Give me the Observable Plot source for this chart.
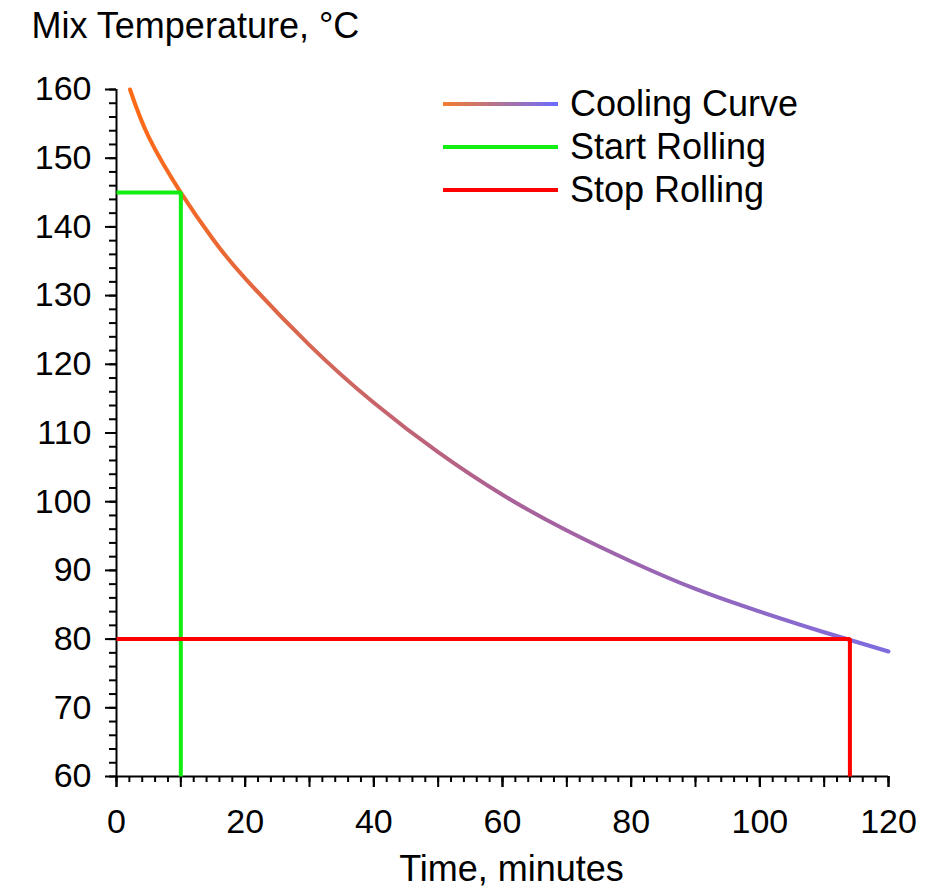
<!DOCTYPE html>
<html><head><meta charset="utf-8">
<script src="https://cdn.jsdelivr.net/npm/d3@7"></script>
<script src="https://cdn.jsdelivr.net/npm/@observablehq/plot@0.6"></script>
<style>
body{margin:0;background:#fff;font-family:"Liberation Sans",Arial,sans-serif;}
#wrap{position:relative;width:945px;height:888px;}
#legend{position:absolute;left:443px;top:82px;font-size:36px;color:#000;}
.row{display:flex;align-items:center;height:43px;}
.sw{width:115px;height:4px;margin-right:12px;}
</style></head><body><div id="wrap"><div id="legend"></div></div>
<script>
// Cooling curve
const times = [2.1, 5, 10, 15, 20, 30, 40, 50, 60, 70, 80, 90, 100, 110, 120];
const temps = [160, 153.1, 145, 138.2, 132.5, 122.8, 114.4, 107.2, 101.0, 95.8, 91.3, 87.3, 84.0, 81.0, 78.2];
// Rolling window
const startTime = 10, startTemp = 145;
const stopTime = 114, stopTemp = 80;
// Axes
const xDomain = [0, 120], yDomain = [60, 160];
const xLabelTicks = [0, 20, 40, 60, 80, 100, 120];
const xMajorTicks = d3.range(0, 121, 10);
const xMinorTicks = d3.range(0, 121, 2);
const yLabelTicks = d3.range(60, 161, 10);
const yMinorTicks = d3.range(60, 161, 2);
const legendNames = ["Cooling Curve", "Start Rolling", "Stop Rolling"];

const curveData = times.map((t, i) => ({t, T: temps[i]}));
const startLine = [{t: xDomain[0], T: startTemp}, {t: startTime, T: startTemp}, {t: startTime, T: yDomain[0]}];
const stopLine = [{t: xDomain[0], T: stopTemp}, {t: stopTime, T: stopTemp}, {t: stopTime, T: yDomain[0]}];

const blank = () => "";
const plot = Plot.plot({
  width: 945, height: 888,
  marginLeft: 116, marginRight: 57, marginTop: 89, marginBottom: 112,
  style: {fontFamily: "'Liberation Sans', Arial, sans-serif", fontSize: "34px", color: "#000", background: "#fff", overflow: "visible"},
  x: {domain: xDomain},
  y: {domain: yDomain},
  marks: [
    Plot.axisX(xMinorTicks, {tickSize: 6, tickFormat: blank, strokeWidth: 2, label: null}),
    Plot.axisX(xMajorTicks, {tickSize: 11, tickFormat: blank, strokeWidth: 2, label: null}),
    Plot.axisX(xLabelTicks, {tickSize: 11, tickPadding: 21, strokeWidth: 2, fontSize: 34, label: null}),
    Plot.axisY(yMinorTicks, {tickSize: 7, tickFormat: blank, strokeWidth: 2, label: null}),
    Plot.axisY(yLabelTicks, {tickSize: 11, tickPadding: 14, strokeWidth: 2, fontSize: 34, label: null}),
    Plot.ruleX([xDomain[0]], {strokeWidth: 2}),
    Plot.ruleY([yDomain[0]], {strokeWidth: 2}),
    Plot.line(curveData, {x: "t", y: "T", curve: "natural", stroke: "url(#coolGrad)", strokeWidth: 4}),
    Plot.line(startLine, {x: "t", y: "T", stroke: "#11ee11", strokeWidth: 4, strokeLinejoin: "miter", strokeLinecap: "butt"}),
    Plot.line(stopLine, {x: "t", y: "T", stroke: "#ff0000", strokeWidth: 4, strokeLinejoin: "miter", strokeLinecap: "butt"}),
    Plot.text(["Mix Temperature, °C"], {frameAnchor: "top-left", dx: -85, dy: -63, textAnchor: "start", lineAnchor: "middle", fontSize: 36}),
    Plot.text(["Time, minutes"], {frameAnchor: "bottom", dx: 9, dy: 93, textAnchor: "middle", lineAnchor: "middle", fontSize: 36})
  ]
});

const defs = d3.select(plot).insert("defs", ":first-child");
const g = defs.append("linearGradient").attr("id", "coolGrad").attr("x1", "0").attr("x2", "1").attr("y1", "0").attr("y2", "0");
g.append("stop").attr("offset", "0").attr("stop-color", "#ff6a14");
g.append("stop").attr("offset", "0.5").attr("stop-color", "#aa6198");
g.append("stop").attr("offset", "1").attr("stop-color", "#7f6ce0");

document.getElementById("wrap").prepend(plot);

const swatches = ["linear-gradient(to right,#f57a2e,#6b6cff)", "#11ee11", "#ff0000"];
const leg = document.getElementById("legend");
legendNames.forEach((n, i) => {
  const r = document.createElement("div"); r.className = "row";
  const s = document.createElement("div"); s.className = "sw"; s.style.background = swatches[i];
  const t = document.createElement("span"); t.textContent = n;
  r.append(s, t); leg.append(r);
});
</script></body></html>
